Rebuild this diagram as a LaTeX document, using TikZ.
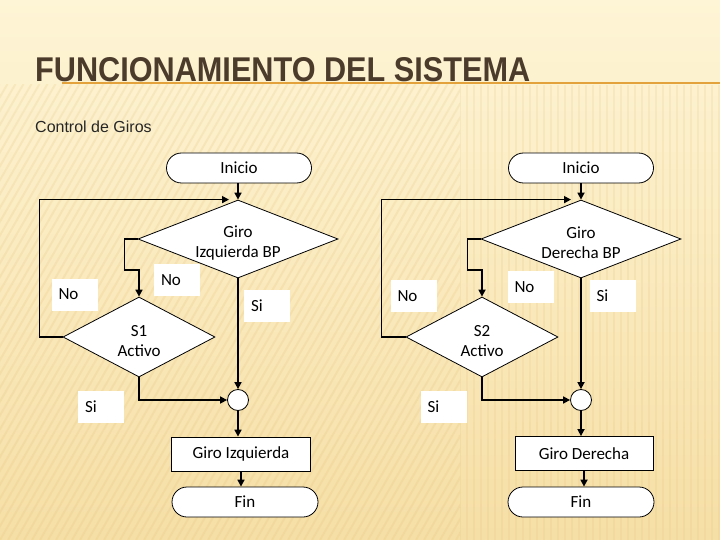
\documentclass[tikz,border=0pt]{standalone}
\usepackage{graphicx}
\usepackage{fontspec}
\usetikzlibrary{shapes.geometric,shapes.misc,arrows.meta}
\newfontfamily\dfont{Carlito}
\newfontfamily\tfont{Liberation Sans}
\newcommand\dfnt{\dfont\fontsize{17}{20}\selectfont}
\definecolor{bgtop}{HTML}{FEF5D6}
\definecolor{bgbot}{HTML}{F6DFA6}
\definecolor{stripe}{HTML}{D9AE5C}
\definecolor{titlecol}{HTML}{4B3B2B}
\definecolor{ulcol}{HTML}{E3A23C}
\tikzset{
  term/.style={draw, line width=0.8, rounded rectangle, fill=white, minimum width=145, minimum height=30, inner sep=0, font=\dfnt},
  dec/.style={draw, line width=0.8, diamond, fill=white, minimum width=200, minimum height=78, inner sep=0},
  dtext/.style={font=\dfnt, align=center, inner sep=0},
  proc/.style={draw, line width=0.8, rectangle, fill=white, minimum width=139, minimum height=34, font=\dfnt},
  junc/.style={draw, line width=0.8, circle, fill=white, minimum size=21, inner sep=0},
  lbl/.style={fill=white, inner xsep=7, inner ysep=0, minimum height=32, text width=32, align=left, font=\dfnt},
  conn/.style={line width=1.6, -{Triangle[length=7,width=7]}},
}
\begin{document}
\begin{tikzpicture}[x=1pt,y=-1pt]
\useasboundingbox (0,0) rectangle (720,540);
% background
\shade[top color=bgtop, bottom color=bgbot] (0,0) rectangle (720,540);
\begin{scope}
\clip (0,85) rectangle (460,540);
\foreach \i in {-320,-312,...,470} \draw[stripe, line width=2, opacity=0.14] (\i,540) -- ++(312,-540);
\end{scope}
\begin{scope}
\clip (460,85) rectangle (720,540);
\foreach \i in {460,467,...,720} \draw[stripe, line width=2, opacity=0.12] (\i,85) -- (\i,540);
\end{scope}
% title
\draw[ulcol, line width=2] (62,83) -- (720,83);
\node[anchor=south west, inner sep=0, text=titlecol] (title) at (35,82) {\resizebox{495pt}{24pt}{\tfont\bfseries\fontsize{34}{34}\selectfont FUNCIONAMIENTO DEL SISTEMA}};
\node[anchor=base west, inner sep=0, text=black!85] (sub) at (35,133) {\tfont\fontsize{16}{18}\selectfont Control de Giros};

% left flowchart
\node[term] (i1) at (239,168) {Inicio};
\node[dec] (d1) at (238,239) {};
\node[dtext] (t1) at (238,243) {Giro\\Izquierda BP};
\node[dec, minimum width=152, minimum height=80] (s1) at (139,337) {};
\node[dtext] (ts1) at (139,341) {S1\\Activo};
\node[junc] (c1) at (238,400) {};
\node[proc] (g1) at (241,454) {Giro Izquierda};
\node[term, minimum width=146] (f1) at (245,502) {Fin};

\node[lbl] (n1) at (74.5,294.5) {No};
\node[lbl] (n2) at (177,280) {No};
\node[lbl] (y1) at (267,306) {Si};
\node[lbl] (y2) at (101,406.5) {Si};

\draw[conn] (i1.south -| d1.north) -- (d1.north);
\draw[conn] (s1.west) -- ++(-23,0) |- ([xshift=-9]d1.north);
\draw[conn] (d1.west) -- ++(-13,0) -- ++(0,31) -| (s1.north);
\draw[conn] (d1.south) -- (c1.north);
\draw[conn] (s1.south) |- (c1.west);
\draw[conn] (c1.south) -- (c1.south |- g1.north);
\draw[conn] (g1.south) -- (g1.south |- f1.north);

% right flowchart
\node[term] (i2) at (581,168) {Inicio};
\node[dec] (d2) at (581,239) {};
\node[dtext] (t2) at (581,243) {Giro\\Derecha BP};
\node[dec, minimum width=152, minimum height=80] (s2) at (482,337) {};
\node[dtext] (ts2) at (482,341) {S2\\Activo};
\node[junc] (c2) at (581,400) {};
\node[proc, minimum width=138] (g2) at (584,453.5) {Giro Derecha};
\node[term, minimum width=146] (f2) at (581,502) {Fin};

\node[lbl] (n3) at (413.5,296) {No};
\node[lbl] (n4) at (530.5,287) {No};
\node[lbl] (y3) at (612.5,296) {Si};
\node[lbl] (y4) at (443.5,406.5) {Si};

\draw[conn] (i2.south) -- (d2.north);
\draw[conn] (s2.west) -- ++(-24,0) |- ([xshift=-10]d2.north);
\draw[conn] (d2.west) -- ++(-13,0) -- ++(0,31) -| (s2.north);
\draw[conn] (d2.south) -- (c2.north);
\draw[conn] (s2.south) |- (c2.west);
\draw[conn] (c2.south) -- (c2.south |- g2.north);
\draw[conn] (g2.south) -- (g2.south |- f2.north);
\end{tikzpicture}
\end{document}
